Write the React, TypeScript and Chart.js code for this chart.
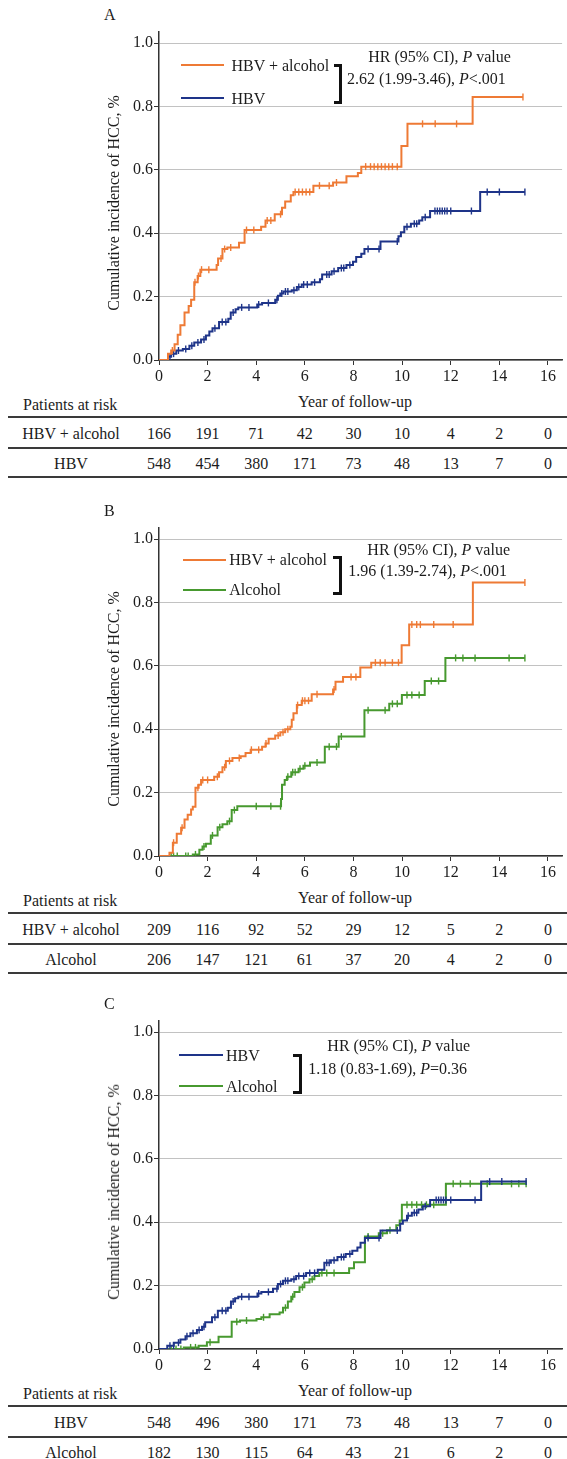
import React, { useEffect, useRef, useState } from 'react';
import { Chart, registerables } from 'chart.js';

Chart.register(...registerables);

const FONT = '"Liberation Serif", "Times New Roman", Times, serif';
const TEXT = '#1c1c1c';
const AXIS = '#333333';
const GRID = '#c2c2c2';
const ORANGE = '#EE7A35';
const NAVY = '#1E3489';
const GREEN = '#47992F';

const xTickValues = [0, 2, 4, 6, 8, 10, 12, 14, 16];
const yTickValues = [0, 0.2, 0.4, 0.6, 0.8, 1.0];
const riskYears = [0, 2, 4, 6, 8, 10, 12, 14, 16];

// ---------- Panel A ----------
const aComboTimes = [0, 0.37, 0.5, 0.64, 0.77, 0.88, 1.05, 1.22, 1.32, 1.45, 1.59, 1.7, 2.37, 2.43, 2.61, 2.81, 3.29, 3.52, 4.2, 4.38, 4.76, 5.06, 5.19, 5.42, 5.53, 6.35, 7.16, 7.71, 8.18, 8.32, 9.97, 10.22, 12.9];
const aComboValues = [0, 0.02, 0.03, 0.05, 0.08, 0.11, 0.15, 0.17, 0.19, 0.245, 0.265, 0.285, 0.3, 0.32, 0.35, 0.355, 0.37, 0.41, 0.42, 0.44, 0.46, 0.48, 0.5, 0.52, 0.53, 0.55, 0.56, 0.58, 0.59, 0.61, 0.675, 0.745, 0.83];
const aComboCensor = [0.55, 1.48, 1.62, 1.75, 2.05, 2.55, 2.7, 2.95, 3.6, 3.9, 4.45, 4.6, 5.0, 5.6, 5.75, 5.9, 6.05, 6.2, 6.6, 7.0, 7.3, 8.5, 8.7, 8.85, 9.0, 9.15, 9.3, 9.45, 9.6, 9.8, 10.84, 11.36, 12.24, 14.97];

const aHbvTimes = [0, 0.37, 0.5, 0.71, 0.98, 1.25, 1.45, 1.73, 1.93, 2.07, 2.2, 2.47, 2.85, 2.95, 3.15, 3.26, 4.04, 4.24, 4.78, 4.89, 4.99, 5.12, 5.46, 5.67, 5.87, 6.28, 6.62, 6.71, 7.1, 7.37, 7.71, 7.98, 8.11, 8.32, 8.45, 9.11, 9.85, 9.95, 10.09, 10.36, 10.7, 10.83, 11.15, 13.21];
const aHbvValues = [0, 0.01, 0.02, 0.03, 0.035, 0.045, 0.055, 0.065, 0.077, 0.09, 0.1, 0.12, 0.13, 0.15, 0.16, 0.166, 0.175, 0.18, 0.19, 0.203, 0.21, 0.216, 0.22, 0.23, 0.238, 0.245, 0.255, 0.27, 0.28, 0.29, 0.3, 0.31, 0.325, 0.335, 0.35, 0.374, 0.39, 0.403, 0.42, 0.43, 0.44, 0.45, 0.47, 0.53];
const aHbvCensor = [0.45, 0.6, 0.8, 1.1, 1.35, 1.6, 1.85, 2.3, 2.6, 2.75, 3.05, 3.4, 3.7, 4.1, 4.5, 4.85, 5.05, 5.2, 5.3, 5.55, 5.75, 5.95, 6.1, 6.4, 6.9, 7.0, 7.2, 7.5, 7.6, 7.85, 8.6, 9.05, 9.8, 10.2, 10.5, 10.6, 10.95, 11.35, 11.45, 11.55, 11.65, 11.75, 11.85, 12.0, 12.85, 13.5, 14.0, 15.05];

const aRiskCombo = [166, 191, 71, 42, 30, 10, 4, 2, 0];
const aRiskHbv = [548, 454, 380, 171, 73, 48, 13, 7, 0];

// ---------- Panel B ----------
const bComboTimes = [0, 0.43, 0.57, 0.73, 0.91, 1.05, 1.18, 1.32, 1.39, 1.5, 1.63, 1.73, 2.27, 2.47, 2.61, 2.75, 3.02, 3.36, 3.56, 3.77, 4.24, 4.38, 4.51, 4.78, 4.99, 5.19, 5.4, 5.46, 5.53, 5.67, 5.87, 6.28, 7.16, 7.26, 7.57, 8.28, 8.73, 9.98, 10.29, 12.91];
const bComboValues = [0, 0.01, 0.042, 0.07, 0.089, 0.115, 0.13, 0.147, 0.155, 0.215, 0.225, 0.24, 0.25, 0.264, 0.28, 0.3, 0.309, 0.315, 0.325, 0.335, 0.345, 0.355, 0.37, 0.38, 0.39, 0.4, 0.408, 0.43, 0.45, 0.476, 0.49, 0.51, 0.525, 0.55, 0.565, 0.595, 0.61, 0.665, 0.73, 0.863];
const bComboCensor = [0.6, 0.95, 1.6, 1.8, 2.0, 2.4, 2.7, 2.9, 3.3, 3.8, 4.1, 4.4, 4.9, 5.1, 5.3, 5.7, 5.9, 6.0, 6.15, 6.5, 7.2, 7.9, 8.1, 8.9, 9.1, 9.3, 9.6, 9.85, 10.4, 10.6, 10.75, 11.3, 12.1, 15.05];

const bAlcTimes = [0, 1.39, 1.66, 1.79, 1.93, 2.13, 2.41, 2.61, 2.81, 2.99, 3.22, 5.02, 5.06, 5.17, 5.26, 5.44, 5.74, 5.94, 6.21, 6.82, 7.39, 8.45, 9.47, 9.99, 10.93, 11.78];
const bAlcValues = [0, 0.005, 0.02, 0.03, 0.039, 0.065, 0.091, 0.1, 0.11, 0.145, 0.157, 0.18, 0.225, 0.24, 0.25, 0.264, 0.275, 0.285, 0.295, 0.345, 0.377, 0.46, 0.48, 0.508, 0.552, 0.625];
const bAlcCensor = [0.5, 0.6, 0.75, 1.1, 1.2, 1.5, 1.85, 2.2, 2.5, 2.9, 3.1, 4.0, 4.6, 5.0, 5.3, 5.5, 5.6, 5.8, 6.0, 6.5, 7.0, 7.3, 7.5, 8.6, 9.3, 9.6, 9.8, 10.2, 10.4, 10.7, 11.2, 11.5, 12.2, 12.5, 13.0, 14.4, 15.05];

const bRiskCombo = [209, 116, 92, 52, 29, 12, 5, 2, 0];
const bRiskAlc = [206, 147, 121, 61, 37, 20, 4, 2, 0];

// ---------- Panel C ----------
const cHbvTimes = [0, 0.34, 0.61, 0.88, 1.09, 1.29, 1.56, 1.77, 1.9, 2.18, 2.42, 2.83, 2.96, 3.13, 3.26, 4.05, 4.21, 4.69, 4.89, 5.1, 5.44, 5.64, 6.05, 6.53, 6.8, 7.07, 7.34, 7.68, 7.95, 8.16, 8.29, 8.47, 9.11, 9.92, 10.03, 10.2, 10.4, 10.67, 10.85, 11.15, 13.25];
const cHbvValues = [0, 0.01, 0.02, 0.03, 0.04, 0.05, 0.06, 0.07, 0.084, 0.1, 0.121, 0.13, 0.15, 0.16, 0.165, 0.175, 0.18, 0.19, 0.205, 0.215, 0.22, 0.23, 0.24, 0.25, 0.272, 0.28, 0.29, 0.3, 0.31, 0.32, 0.335, 0.35, 0.374, 0.395, 0.405, 0.42, 0.43, 0.44, 0.45, 0.47, 0.528];
const cHbvCensor = [0.45, 0.6, 0.8, 1.15, 1.4, 1.65, 1.85, 2.3, 2.6, 2.75, 3.05, 3.4, 3.7, 4.1, 4.5, 4.85, 5.0, 5.2, 5.3, 5.55, 5.75, 5.95, 6.2, 6.4, 6.9, 7.0, 7.2, 7.5, 7.6, 7.85, 8.6, 9.05, 9.8, 10.25, 10.5, 10.6, 10.95, 11.4, 11.5, 11.6, 11.7, 11.8, 12.0, 13.0, 13.6, 14.1, 15.1];

const cAlcTimes = [0, 1.02, 1.63, 1.97, 2.45, 2.99, 3.33, 4.01, 4.21, 4.55, 4.96, 5.1, 5.3, 5.44, 5.57, 5.78, 5.98, 6.19, 6.39, 6.59, 7.82, 8.02, 8.47, 9.04, 9.38, 9.76, 9.9, 9.99, 11.8];
const cAlcValues = [0, 0.005, 0.01, 0.021, 0.039, 0.086, 0.09, 0.095, 0.1, 0.11, 0.115, 0.13, 0.15, 0.165, 0.18, 0.195, 0.21, 0.22, 0.23, 0.24, 0.255, 0.274, 0.355, 0.365, 0.375, 0.39, 0.405, 0.455, 0.521];
const cAlcCensor = [0.5, 0.7, 0.9, 1.3, 1.5, 2.1, 3.2, 3.6, 4.3, 5.2, 5.5, 5.9, 6.3, 6.7, 6.9, 7.2, 8.6, 9.2, 9.5, 10.2, 10.4, 10.6, 10.8, 11.0, 11.3, 12.1, 12.4, 12.8, 13.5, 14.5, 14.8, 15.1];

const cRiskHbv = [548, 496, 380, 171, 73, 48, 13, 7, 0];
const cRiskAlc = [182, 130, 115, 64, 43, 21, 6, 2, 0];

type Series = { name: string; color: string; times: number[]; values: number[]; censor: number[] };

function buildPoints(s: Series) {
  const pts: { x: number; y: number; c: boolean }[] = s.times.map((t, i) => ({ x: t, y: s.values[i], c: false }));
  s.censor.forEach((t) => {
    let v = 0;
    for (let i = 0; i < s.times.length; i++) if (s.times[i] <= t) v = s.values[i];
    pts.push({ x: t, y: v, c: true });
  });
  pts.sort((a, b) => a.x - b.x || (a.c ? 1 : 0) - (b.c ? 1 : 0));
  return pts;
}

type PanelLayout = {
  header: [number, number];
  stat: [number, number];
  leg1: number;
  leg2: number;
  lineX: [number, number];
  textX: number;
  bracket: [number, number, number, number];
};

type PanelProps = {
  y1: number;
  label: string;
  drawOrder: Series[];
  legend: Series[];
  statText: React.ReactNode;
  lay: PanelLayout;
  rows: { name: string; values: number[] }[];
};

const Txt = ({ x, y, center, children, style }: any) => (
  <div
    style={{
      position: 'absolute',
      left: x,
      top: y - 8.5,
      lineHeight: '16px',
      fontSize: 16,
      fontFamily: FONT,
      color: TEXT,
      whiteSpace: 'nowrap',
      transform: center ? 'translateX(-50%)' : undefined,
      ...style,
    }}
  >
    {children}
  </div>
);

const PLOT_H = 317;
const CANVAS_H = 367;

function KMPanel({ y1, label, drawOrder, legend, statText, lay, rows }: PanelProps) {
  const ref = useRef<HTMLCanvasElement>(null);
  const [cols, setCols] = useState<number[]>([]);
  const ct = y1 - 20;
  const y0 = y1 + PLOT_H;

  useEffect(() => {
    if (!ref.current) return;
    const tickFont = { family: FONT, size: 16 };
    const chart = new Chart(ref.current, {
      type: 'line',
      data: {
        datasets: drawOrder.map((s) => ({
          label: s.name,
          data: buildPoints(s),
          borderColor: s.color,
          backgroundColor: s.color,
          borderWidth: 2,
          stepped: 'before',
          fill: false,
          tension: 0,
          pointStyle: 'line',
          rotation: 90,
          pointRadius: (ctx: any) => (ctx.raw && ctx.raw.c ? 3.5 : 0),
          pointHoverRadius: 0,
          pointBorderColor: s.color,
          pointBorderWidth: 1.4,
        })) as any,
      },
      options: {
        animation: false,
        responsive: false,
        events: [],
        layout: { padding: { left: 100, right: 1, top: 9, bottom: 0 } },
        plugins: { legend: { display: false }, tooltip: { enabled: false }, title: { display: false } },
        scales: {
          x: {
            type: 'linear',
            min: 0,
            max: 16.58,
            afterBuildTicks: (s: any) => {
              s.ticks = xTickValues.map((v) => ({ value: v }));
            },
            afterFit: (s: any) => {
              s.height = 30;
              s.paddingLeft = 0;
              s.paddingRight = 0;
            },
            grid: { drawOnChartArea: false, drawTicks: true, tickLength: 5, tickColor: AXIS, lineWidth: 1 },
            border: { display: true, color: AXIS, width: 1.5 },
            ticks: {
              font: tickFont,
              color: TEXT,
              padding: 2,
              maxRotation: 0,
              autoSkip: false,
              callback: (v: any) => String(v),
            },
          },
          y: {
            type: 'linear',
            min: 0,
            max: 328 / PLOT_H,
            afterBuildTicks: (s: any) => {
              s.ticks = yTickValues.map((v) => ({ value: v }));
            },
            afterFit: (s: any) => {
              s.width = 59;
              s.paddingTop = 0;
              s.paddingBottom = 0;
            },
            grid: { color: GRID, lineWidth: 1, drawTicks: true, tickLength: 5, tickColor: AXIS },
            border: { display: true, color: AXIS, width: 1.5 },
            ticks: {
              font: tickFont,
              color: TEXT,
              padding: 1,
              callback: (v: any) => Number(v).toFixed(1),
            },
          },
        },
      } as any,
    });
    const xs = chart.scales.x;
    setCols(riskYears.map((v) => xs.getPixelForValue(v)));
    return () => chart.destroy();
  }, []);

  const lineStyle = (y: number): React.CSSProperties => ({
    position: 'absolute',
    left: 8,
    width: 559,
    top: y - 1,
    height: 2,
    background: '#3a3a3a',
  });

  const [bx0, bx1, by0, by1] = lay.bracket;

  return (
    <>
      <canvas
        ref={ref}
        width={567}
        height={CANVAS_H}
        style={{ position: 'absolute', left: 0, top: ct, width: 567, height: CANVAS_H }}
      />
      <Txt x={104} y={y1 - 28}>{label}</Txt>
      {/* y-axis title */}
      <div
        style={{
          position: 'absolute',
          left: 113.5,
          top: y1 + 160,
          width: 0,
          height: 0,
        }}
      >
        <div
          style={{
            position: 'absolute',
            left: 0,
            top: 0,
            transform: 'translate(-50%, -50%) rotate(-90deg)',
            fontFamily: FONT,
            fontSize: 16,
            lineHeight: '16px',
            color: TEXT,
            whiteSpace: 'nowrap',
          }}
        >
          Cumulative incidence of HCC, %
        </div>
      </div>
      {/* legend */}
      {legend.map((s, i) => {
        const y = i === 0 ? y1 + lay.leg1 : y1 + lay.leg2;
        return (
          <React.Fragment key={s.name}>
            <div
              style={{
                position: 'absolute',
                left: lay.lineX[0],
                width: lay.lineX[1] - lay.lineX[0],
                top: y - 1,
                height: 2,
                background: s.color,
              }}
            />
            <Txt x={lay.textX} y={y + 1}>{s.name}</Txt>
          </React.Fragment>
        );
      })}
      {/* bracket */}
      <div
        style={{
          position: 'absolute',
          left: bx0,
          top: y1 + by0 - 1.5,
          width: bx1 - bx0 - 3,
          height: by1 - by0,
          borderTop: '3px solid #111',
          borderRight: '3px solid #111',
          borderBottom: '3px solid #111',
        }}
      />
      <Txt x={lay.header[0]} y={y1 + lay.header[1]} center>
        HR (95% CI), <i>P</i> value
      </Txt>
      <Txt x={lay.stat[0]} y={y1 + lay.stat[1]}>{statText}</Txt>
      {/* x title and risk table */}
      <Txt x={355} y={y0 + 42} center>Year of follow-up</Txt>
      <Txt x={23} y={y0 + 45}>Patients at risk</Txt>
      <div style={lineStyle(y0 + 57)} />
      <div style={lineStyle(y0 + 88)} />
      <div style={lineStyle(y0 + 117)} />
      {rows.map((r, ri) => {
        const cy = y0 + (ri === 0 ? 74.5 : 104.5);
        return (
          <React.Fragment key={r.name}>
            <Txt x={71} y={cy} center>{r.name}</Txt>
            {cols.length > 0 &&
              r.values.map((v, i) => (
                <Txt key={i} x={cols[i]} y={cy} center>{v}</Txt>
              ))}
          </React.Fragment>
        );
      })}
    </>
  );
}

const sAcombo: Series = { name: 'HBV + alcohol', color: ORANGE, times: aComboTimes, values: aComboValues, censor: aComboCensor };
const sAhbv: Series = { name: 'HBV', color: NAVY, times: aHbvTimes, values: aHbvValues, censor: aHbvCensor };
const sBcombo: Series = { name: 'HBV + alcohol', color: ORANGE, times: bComboTimes, values: bComboValues, censor: bComboCensor };
const sBalc: Series = { name: 'Alcohol', color: GREEN, times: bAlcTimes, values: bAlcValues, censor: bAlcCensor };
const sChbv: Series = { name: 'HBV', color: NAVY, times: cHbvTimes, values: cHbvValues, censor: cHbvCensor };
const sCalc: Series = { name: 'Alcohol', color: GREEN, times: cAlcTimes, values: cAlcValues, censor: cAlcCensor };

export default function App() {
  return (
    <div
      style={{
        position: 'absolute',
        left: 0,
        top: 0,
        width: 567,
        height: 1459,
        overflow: 'hidden',
        background: '#ffffff',
      }}
    >
      <KMPanel
        y1={43}
        label="A"
        drawOrder={[sAcombo, sAhbv]}
        legend={[sAcombo, sAhbv]}
        statText={<>2.62 (1.99-3.46), <i>P</i>&lt;.001</>}
        lay={{ header: [439.5, 14], stat: [347, 36.3], leg1: 22.3, leg2: 55, lineX: [181, 224], textX: 231.5, bracket: [333.5, 341.8, 22.3, 56.3] }}
        rows={[
          { name: 'HBV + alcohol', values: aRiskCombo },
          { name: 'HBV', values: aRiskHbv },
        ]}
      />
      <KMPanel
        y1={539}
        label="B"
        drawOrder={[sBcombo, sBalc]}
        legend={[sBcombo, sBalc]}
        statText={<>1.96 (1.39-2.74), <i>P</i>&lt;.001</>}
        lay={{ header: [438.7, 11.4], stat: [348.3, 32.4], leg1: 20.5, leg2: 50.5, lineX: [182.7, 226], textX: 229.3, bracket: [333.3, 341.7, 18, 51.4] }}
        rows={[
          { name: 'HBV + alcohol', values: bRiskCombo },
          { name: 'Alcohol', values: bRiskAlc },
        ]}
      />
      <KMPanel
        y1={1032}
        label="C"
        drawOrder={[sChbv, sCalc]}
        legend={[sChbv, sCalc]}
        statText={<>1.18 (0.83-1.69), <i>P</i>=0.36</>}
        lay={{ header: [398.7, 14.3], stat: [308.3, 37.6], leg1: 23.3, leg2: 54.3, lineX: [179.3, 222.7], textX: 226, bracket: [293.3, 302.2, 23.3, 57.6] }}
        rows={[
          { name: 'HBV', values: cRiskHbv },
          { name: 'Alcohol', values: cRiskAlc },
        ]}
      />
    </div>
  );
}
